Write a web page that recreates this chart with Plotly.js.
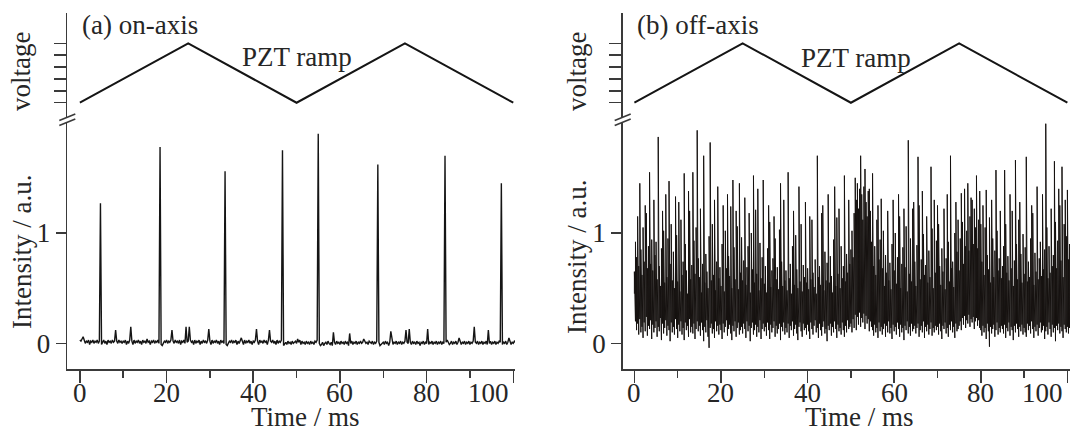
<!DOCTYPE html>
<html>
<head>
<meta charset="utf-8">
<script src="https://cdn.plot.ly/plotly-3.0.1.min.js"></script>
<style>html,body{margin:0;padding:0;background:#fff;}#chart{width:1072px;height:433px;}</style>
</head>
<body>
<div id="chart"></div>
<script>
// ---------------- DATA ----------------
// PZT ramp (both panels)
const rampTime = [0, 25, 50, 75, 100];
const rampVoltage = [0, 5, 0, 5, 0];

// (a) on-axis: baseline samples every 0.25 ms
const aDt = 0.25;
const aBaseline = [
 0.03,0.02,0.04,0.01,0.03,0.00,0.02,0.01,0.03,-0.01,0.02,0.01,0.03,0.00,0.02,0.01,0.03,0.00,0.02,0.01,
 -0.01,0.01,0.03,0.00,0.02,-0.01,0.03,0.01,0.02,0.00,0.03,0.01,0.02,-0.01,0.02,0.00,0.03,0.01,0.02,0.00,
 0.02,0.01,0.03,-0.01,0.02,0.00,0.03,0.01,0.02,-0.01,0.03,0.00,0.02,0.01,0.03,0.00,0.02,-0.01,0.03,0.01,
 0.02,0.00,0.03,0.01,0.02,-0.01,0.02,0.01,0.03,0.00,0.02,0.01,0.03,0.00,0.02,-0.01,-0.02,0.00,0.02,0.01,
 0.03,0.00,0.02,0.01,0.03,-0.01,0.02,0.00,0.03,0.01,0.02,0.00,0.03,-0.01,0.02,0.01,0.03,0.00,0.02,0.01,
 0.02,0.00,0.03,0.01,0.02,-0.01,0.03,0.00,0.02,0.01,0.03,-0.01,0.02,0.00,0.03,0.01,0.02,0.00,0.03,0.01,
 0.02,-0.01,0.03,0.00,0.02,0.01,0.03,0.00,0.02,-0.01,0.03,0.01,0.02,0.00,0.03,-0.01,-0.02,0.00,0.02,0.01,
 0.03,0.00,0.02,0.01,0.03,-0.01,0.02,0.00,0.03,0.01,0.02,-0.01,0.03,0.00,0.02,0.01,0.03,0.00,0.02,-0.01,
 0.02,0.01,0.03,0.00,0.02,-0.01,0.03,0.01,0.02,0.00,0.03,0.01,0.02,-0.01,0.03,0.00,0.02,0.01,0.03,0.00,
 0.02,-0.01,0.03,0.00,0.02,0.01,0.03,-0.01,-0.02,0.00,0.01,-0.01,0.02,0.00,0.01,-0.01,0.02,0.00,0.01,0.02,
 0.00,0.02,0.01,0.03,-0.01,0.02,0.00,0.01,-0.01,0.02,0.00,0.01,-0.01,0.02,0.00,0.01,-0.01,0.02,0.01,0.03,
 0.02,0.00,-0.02,-0.01,0.01,-0.02,0.00,0.01,-0.01,0.02,0.00,-0.01,0.01,-0.02,0.00,0.01,-0.01,0.02,0.00,0.01,
 -0.01,0.02,0.00,0.01,-0.01,0.02,0.00,0.01,-0.02,0.01,0.00,0.02,-0.01,0.01,0.00,0.02,-0.01,0.01,0.00,0.02,
 0.00,0.01,-0.01,0.02,0.00,0.01,-0.01,0.02,0.01,0.00,0.02,-0.01,0.01,0.00,0.02,0.03,0.01,-0.02,-0.01,0.00,
 0.01,-0.01,0.02,0.00,0.01,-0.02,0.01,0.00,0.02,-0.01,0.01,0.00,0.02,-0.01,0.01,0.00,0.02,-0.01,0.01,0.00,
 0.02,-0.01,0.01,0.00,0.02,0.01,-0.01,0.02,0.00,0.01,-0.01,0.02,0.00,0.01,-0.02,0.01,0.00,0.02,-0.01,0.01,
 0.00,0.02,-0.01,0.01,0.00,0.02,-0.01,0.01,0.00,0.02,-0.01,0.01,0.00,0.02,-0.01,0.01,0.00,0.02,0.01,0.03,
 0.01,-0.01,0.00,0.02,-0.01,0.01,0.00,0.02,-0.01,0.01,0.00,0.02,-0.01,0.01,0.00,0.02,-0.01,0.01,0.00,0.02,
 -0.01,0.01,0.00,0.02,-0.01,0.01,0.00,0.02,-0.01,0.01,0.00,0.02,-0.01,0.01,0.00,0.02,-0.01,0.01,0.00,0.02,
 -0.01,0.01,0.00,0.02,-0.01,0.01,0.00,0.02,0.01,0.03,-0.01,0.01,0.00,0.02,-0.01,0.01,0.00,0.02,-0.01,0.01,
 0.00,0.02,0.01
];
// (a) transmission peaks: time (ms) and height (a.u.)
const aPeakTime = [0.75, 4.75, 8.25, 11.75, 15.5, 18.5, 21.25, 24.5, 25.25, 29.75, 33.5, 37.25, 40.75, 43.75, 46.75, 50.25, 55.0, 58.5, 62.25, 65.5, 68.75, 71.75, 75.25, 76.0, 80.25, 84.25, 87.5, 91.0, 94.25, 97.25, 99.0];
const aPeakHeight = [0.06, 1.27, 0.12, 0.15, 0.04, 1.78, 0.12, 0.15, 0.15, 0.13, 1.56, 0.05, 0.13, 0.12, 1.75, 0.04, 1.90, 0.10, 0.09, 0.04, 1.62, 0.11, 0.12, 0.13, 0.13, 1.70, 0.05, 0.15, 0.12, 1.45, 0.05];

// (b) off-axis: per 0.25 ms sample, the lowest and highest reading
const bDt = 0.25;
const bHigh = [
 0.65,0.92,0.78,1.15,0.70,1.22,0.85,0.62,1.05,0.74,0.96,1.18,0.68,0.88,1.25,0.72,0.94,0.66,1.10,0.80,
 0.92,0.58,1.16,0.70,0.52,0.86,0.64,1.02,0.55,0.78,0.60,0.95,0.48,0.72,1.08,0.57,0.83,0.50,0.69,0.98,
 0.56,0.80,0.47,1.12,0.62,0.74,0.51,0.90,0.66,0.45,0.84,1.20,0.58,0.71,0.49,0.93,0.63,1.05,0.54,0.77,
 0.60,0.88,0.46,0.72,1.14,0.55,0.81,0.65,0.50,0.97,0.70,0.57,1.08,0.62,0.85,0.48,0.74,1.18,0.59,0.69,
 0.52,0.90,0.63,0.47,1.02,0.68,0.56,0.79,0.61,1.24,0.50,0.73,0.87,0.58,0.66,1.06,0.49,0.82,0.64,0.96,
 0.57,0.75,1.12,0.53,0.69,0.88,0.60,0.46,1.00,0.67,0.82,0.55,1.21,0.63,0.72,0.48,0.91,0.59,0.78,1.04,
 0.54,0.70,0.46,0.86,0.62,1.10,0.51,0.66,0.77,0.44,0.95,0.58,0.69,0.49,1.03,0.61,0.74,0.52,0.84,0.57,
 0.66,0.48,1.15,0.59,0.72,0.45,0.88,0.62,0.53,0.98,0.67,0.50,0.80,0.56,1.08,0.47,0.71,0.60,0.92,0.55,
 0.68,0.49,0.85,0.58,1.12,0.64,0.51,0.76,0.45,0.97,0.60,0.70,0.53,1.18,0.66,0.48,0.83,0.57,0.73,1.01,
 0.55,0.79,0.61,0.46,0.94,0.68,0.52,1.14,0.63,0.74,0.50,0.88,0.59,0.70,1.05,0.56,0.81,0.64,0.98,0.72,
 0.85,1.02,0.78,1.18,0.95,1.30,0.88,1.22,1.40,1.05,1.35,1.12,1.42,0.98,1.28,1.15,1.38,1.00,1.20,0.92,
 1.08,0.70,0.88,0.62,1.12,0.55,0.76,0.94,0.58,0.68,1.02,0.52,0.80,0.64,1.10,0.57,0.73,0.49,0.90,0.61,
 0.66,1.00,0.54,0.78,0.60,1.15,0.50,0.72,0.87,0.58,0.69,1.06,0.47,0.82,0.63,0.95,0.56,1.22,0.65,0.74,
 0.52,0.89,0.67,1.25,0.58,0.76,0.48,0.99,0.62,0.71,1.10,0.55,0.84,0.60,0.68,1.04,0.50,0.79,0.64,0.93,
 0.57,1.08,0.70,0.53,0.86,0.65,1.18,0.49,0.77,0.61,0.92,0.56,1.21,0.68,0.74,0.51,1.00,0.63,0.83,1.12,
 0.66,0.95,0.78,1.10,0.72,1.20,0.88,1.02,1.28,0.84,1.15,0.97,1.30,0.90,1.22,1.05,1.26,0.86,1.12,0.93,
 1.08,0.74,0.90,0.62,1.05,0.58,0.80,0.67,1.14,0.55,0.72,0.95,0.60,0.84,0.51,1.02,0.66,0.77,1.16,0.59,
 0.70,0.88,0.54,1.08,0.64,0.79,0.57,0.96,0.68,1.20,0.52,0.75,0.62,0.90,0.58,1.12,0.66,0.81,0.55,0.99,
 0.63,0.87,1.10,0.56,0.74,0.60,0.95,0.69,1.18,0.53,0.82,0.65,1.02,0.58,0.77,0.92,0.61,1.14,0.67,0.85,
 0.72,1.05,0.59,0.88,0.64,1.22,0.70,0.80,0.57,1.10,0.68,0.93,0.62,1.25,0.75,0.86,0.60,1.08,0.71,0.97,
 1.30,0.76,0.90,0.68
];
const bLow = [
 0.45,0.20,0.12,0.18,0.08,0.22,0.10,0.15,0.05,0.19,0.11,0.24,0.07,0.16,0.13,0.21,0.04,0.17,0.10,0.14,
 0.20,0.06,0.15,0.11,0.23,0.03,0.18,0.09,0.14,0.21,0.07,0.16,0.12,0.02,0.19,0.10,0.15,0.08,0.22,0.13,
 0.05,0.17,0.11,0.20,0.08,0.14,0.03,0.19,0.12,0.16,0.06,0.22,0.10,0.15,0.09,0.18,0.04,0.13,0.20,0.11,
 0.16,0.07,0.19,0.12,0.02,0.15,0.10,0.21,0.06,-0.04,0.14,0.18,0.09,0.13,0.05,0.20,0.11,0.16,0.08,0.17,
 0.12,0.04,0.18,0.10,0.15,0.21,0.07,0.13,0.17,0.09,0.03,0.16,0.11,0.20,0.06,0.14,0.19,0.08,0.12,0.15,
 0.09,0.18,0.13,0.05,0.20,0.11,0.16,0.02,0.14,0.19,0.08,0.12,0.17,0.06,0.15,0.10,0.21,0.04,0.13,0.18,
 0.11,0.15,0.07,0.19,0.12,0.04,0.17,0.10,0.14,0.20,0.06,0.16,0.09,0.13,0.18,0.03,0.15,0.11,0.19,0.08,
 0.14,0.10,0.18,0.05,0.16,0.12,0.20,0.07,0.13,0.17,0.09,0.03,0.15,0.19,0.11,0.06,0.18,0.12,0.14,0.08,
 0.17,0.11,0.04,0.19,0.13,0.08,0.16,0.21,0.10,0.14,0.05,0.18,0.12,0.07,0.15,0.20,0.09,0.13,0.02,0.16,
 0.12,0.18,0.07,0.15,0.10,0.20,0.13,0.05,0.17,0.11,0.14,0.08,0.19,0.12,0.06,0.16,0.10,0.21,0.13,0.15,
 0.18,0.10,0.22,0.14,0.26,0.12,0.24,0.17,0.28,0.15,0.23,0.19,0.27,0.13,0.25,0.18,0.22,0.11,0.20,0.15,
 0.12,0.07,0.17,0.10,0.14,0.05,0.19,0.11,0.15,0.08,0.13,0.18,0.06,0.16,0.10,0.20,0.09,0.14,0.04,0.17,
 0.11,0.15,0.08,0.19,0.13,0.06,0.17,0.10,0.14,0.03,0.16,0.12,0.20,0.09,0.15,0.07,0.18,0.11,0.13,0.16,
 0.09,0.14,0.18,0.06,0.12,0.16,0.10,0.20,0.05,0.15,0.11,0.17,0.08,0.13,0.19,0.07,0.14,0.10,0.16,0.12,
 0.15,0.08,0.18,0.11,0.04,0.16,0.13,0.19,0.09,0.14,0.06,0.17,0.12,0.20,0.10,0.15,0.05,0.18,0.11,0.13,
 0.16,0.20,0.12,0.23,0.17,0.25,0.14,0.21,0.18,0.26,0.15,0.22,0.19,0.24,0.13,0.20,0.23,0.16,0.21,0.14,
 0.12,0.07,0.16,0.10,0.14,0.04,0.18,0.11,-0.03,0.15,0.09,0.13,0.17,0.06,0.12,0.19,0.08,0.14,0.10,0.16,
 0.13,0.09,0.17,0.05,0.14,0.11,0.19,0.07,0.15,0.12,0.03,0.16,0.10,0.18,0.13,0.06,0.15,0.11,0.17,0.08,
 0.14,0.10,0.06,0.18,0.12,0.16,0.09,0.20,0.13,0.05,0.15,0.11,0.17,0.07,0.14,0.19,0.10,0.12,0.16,0.04,
 0.11,0.15,0.08,0.19,0.13,0.06,0.17,0.10,0.14,0.02,0.16,0.12,0.18,0.09,0.15,0.11,0.05,0.17,0.13,0.10,
 0.15,0.09,0.14,0.12
];
// (b) spikes above the band: time (ms) and height (a.u.)
const bSpikeTime = [1.3, 2.4, 3.5, 4.5, 5.4, 6.6, 7.2, 8.0, 9.5, 10.3, 11.5, 12.4, 13.4, 14.4, 15.2, 16.1, 17.6, 18.4, 19.3, 20.5, 21.6, 22.8, 23.5, 24.3, 25.6, 26.5, 27.5, 28.6, 29.8, 31.0, 32.2, 33.7, 34.6, 35.6, 36.8, 38.0, 39.4, 40.6, 42.3, 43.6, 44.8, 46.2, 47.3, 48.5, 49.6, 50.9, 51.6, 52.3, 53.2, 54.2, 55.1, 56.2, 57.1, 58.4, 59.8, 61.0, 62.2, 63.3, 64.4, 65.5, 66.6, 67.4, 68.4, 69.2, 70.0, 71.5, 72.3, 73.1, 74.2, 75.4, 76.2, 77.0, 77.8, 78.9, 79.8, 80.6, 81.3, 82.4, 83.6, 84.6, 85.6, 86.8, 87.9, 89.0, 90.6, 91.8, 93.0, 94.2, 95.1, 96.9, 97.9, 98.8, 99.6, 100.0];
const bSpikeHeight = [1.45, 1.25, 1.55, 1.30, 1.87, 1.20, 1.35, 1.47, 1.33, 1.28, 1.54, 1.38, 1.55, 1.93, 1.22, 1.70, 1.82, 1.30, 1.42, 1.25, 1.35, 1.48, 1.20, 1.45, 1.32, 1.18, 1.52, 1.40, 1.48, 1.25, 1.15, 1.45, 1.30, 1.55, 1.20, 1.42, 1.28, 1.15, 1.70, 1.25, 1.35, 1.42, 1.22, 1.52, 1.30, 1.50, 1.45, 1.70, 1.58, 1.40, 1.54, 1.25, 1.31, 1.20, 1.30, 1.35, 1.22, 1.84, 1.28, 1.69, 1.38, 1.15, 1.60, 1.30, 1.25, 1.22, 1.35, 1.70, 1.28, 1.36, 1.40, 1.45, 1.32, 1.52, 1.38, 1.25, 1.39, 1.30, 1.57, 1.20, 1.57, 1.35, 1.66, 1.28, 1.69, 1.25, 1.42, 1.35, 1.99, 1.65, 1.40, 1.60, 1.30, 1.39];

const xTickVals = [0, 20, 40, 60, 80, 100];
const xTickLabels = ['0', '20', '40', '60', '80', '100'];

// ---------------- BUILD ----------------
function buildPeaks(base, dt, peakT, peakH) {
  const x = base.map((_, i) => +(i * dt).toFixed(3));
  const y = base.slice();
  peakT.forEach((t, k) => { const i = Math.round(t / dt); if (i < y.length) y[i] = peakH[k]; });
  return {x, y};
}
function buildMinMax(lo, hi, dt, spikeT, spikeH) {
  const top = hi.slice();
  spikeT.forEach((t, k) => { const i = Math.round(t / dt); if (i < top.length) top[i] = spikeH[k]; });
  const x = [], y = [];
  lo.forEach((v, i) => { const t = +(i * dt).toFixed(3); x.push(t, t); y.push(v, top[i]); });
  return {x, y};
}
const A = buildPeaks(aBaseline, aDt, aPeakTime, aPeakHeight);
const B = buildMinMax(bLow, bHigh, bDt, bSpikeTime, bSpikeHeight);

const W = 1072, H = 433;
const px = v => v / W;
const py = v => 1 - v / H;

const FONT = 'Liberation Serif, Times New Roman, serif';
const TXT = '#262626';
const AX = '#3a3a3a';
const FS = 27;

const lowerDom = [py(369), py(121.5)];
const upperDom = [py(117), py(13)];
const aDom = [px(67.3), px(515)];
const bDom = [px(622.7), px(1070)];

function xAxis(dom, range, anchor) {
  return {
    domain: dom, range: range, anchor: anchor,
    showline: true, linecolor: AX, linewidth: 1.6, mirror: false,
    ticks: 'outside', ticklen: 12, tickwidth: 1.5, tickcolor: AX,
    tickvals: xTickVals, showticklabels: false,
    minor: {tickvals: [10, 30, 50, 70, 90], ticks: 'outside', ticklen: 7, tickwidth: 1.5, tickcolor: AX},
    showgrid: false, zeroline: false, fixedrange: true
  };
}
function lowerY(anchor) {
  return {
    domain: lowerDom, range: [-0.232, 2.01], anchor: anchor,
    showline: true, linecolor: AX, linewidth: 1.6,
    ticks: 'outside', ticklen: 10, tickwidth: 1.5, tickcolor: AX,
    tickvals: [0, 1], ticktext: ['0', '1'],
    tickfont: {family: FONT, size: FS, color: TXT},
    showgrid: false, zeroline: false, fixedrange: true
  };
}
function upperY(anchor) {
  return {
    domain: upperDom, range: [-1.2, 7.55], anchor: anchor,
    showline: true, linecolor: AX, linewidth: 1.6,
    ticks: 'outside', ticklen: 12, tickwidth: 1.5, tickcolor: AX,
    tickvals: [0, 1, 2, 3, 4, 5], showticklabels: false,
    showgrid: false, zeroline: false, fixedrange: true
  };
}

const traces = [
  {x: A.x, y: A.y, xaxis: 'x', yaxis: 'y', type: 'scatter', mode: 'lines',
   line: {color: '#151515', width: 1.4}, hoverinfo: 'skip'},
  {x: rampTime, y: rampVoltage, xaxis: 'x', yaxis: 'y3', type: 'scatter', mode: 'lines',
   line: {color: '#151515', width: 2}, hoverinfo: 'skip'},
  {x: B.x, y: B.y, xaxis: 'x2', yaxis: 'y2', type: 'scatter', mode: 'lines',
   line: {color: '#161210', width: 1.0}, hoverinfo: 'skip'},
  {x: rampTime, y: rampVoltage, xaxis: 'x2', yaxis: 'y4', type: 'scatter', mode: 'lines',
   line: {color: '#151515', width: 2}, hoverinfo: 'skip'}
];

function ann(text, x, y, opts) {
  return Object.assign({text: text, xref: 'paper', yref: 'paper', x: px(x), y: py(y),
    xanchor: 'center', yanchor: 'middle', showarrow: false,
    font: {family: FONT, size: FS, color: TXT}}, opts || {});
}

const annotations = [
  ann('(a) on-axis', 80, 25, {xanchor: 'left'}),
  ann('(b) off-axis', 635, 25, {xanchor: 'left'}),
  ann('PZT ramp', 297, 57),
  ann('PZT ramp', 856, 58),
  ann('voltage', 21, 72, {textangle: -90}),
  ann('voltage', 577, 72, {textangle: -90}),
  ann('Intensity / a.u.', 22, 252, {textangle: -90}),
  ann('Intensity / a.u.', 577, 257, {textangle: -90}),
  ann('Time / ms', 305, 433, {yanchor: 'bottom', borderpad: 0}),
  ann('Time / ms', 859, 433, {yanchor: 'bottom', borderpad: 0})
];
// x tick labels for both panels (last label sits left of its tick, as in the figure)
['x', 'x2'].forEach(ax => {
  xTickVals.forEach((v, i) => {
    annotations.push({text: xTickLabels[i], xref: ax, yref: 'paper', x: v,
      xshift: i === xTickVals.length - 1 ? -25 : 0, y: py(393),
      xanchor: 'center', yanchor: 'middle', showarrow: false, borderpad: 0,
      font: {family: FONT, size: FS, color: TXT}});
  });
});

function breakMarks(axisX, midY) {
  const s = {type: 'line', xref: 'paper', yref: 'paper', line: {color: AX, width: 1.6}};
  return [
    Object.assign({}, s, {x0: px(axisX - 8), y0: py(midY + 2.5), x1: px(axisX + 8), y1: py(midY - 4)}),
    Object.assign({}, s, {x0: px(axisX - 8), y0: py(midY + 7.5), x1: px(axisX + 8), y1: py(midY + 1)})
  ];
}

const layout = {
  width: W, height: H,
  margin: {l: 0, r: 0, t: 0, b: 0},
  paper_bgcolor: '#fff', plot_bgcolor: 'rgba(0,0,0,0)',
  showlegend: false,
  xaxis: xAxis(aDom, [-2.9, 100.4], 'y'),
  xaxis2: xAxis(bDom, [-2.7, 100.6], 'y2'),
  yaxis: lowerY('x'),
  yaxis2: lowerY('x2'),
  yaxis3: upperY('x'),
  yaxis4: upperY('x2'),
  annotations: annotations,
  shapes: breakMarks(67.3, 118).concat(breakMarks(622.7, 118))
};

Plotly.newPlot('chart', traces, layout, {staticPlot: true, displayModeBar: false});
</script>
</body>
</html>
